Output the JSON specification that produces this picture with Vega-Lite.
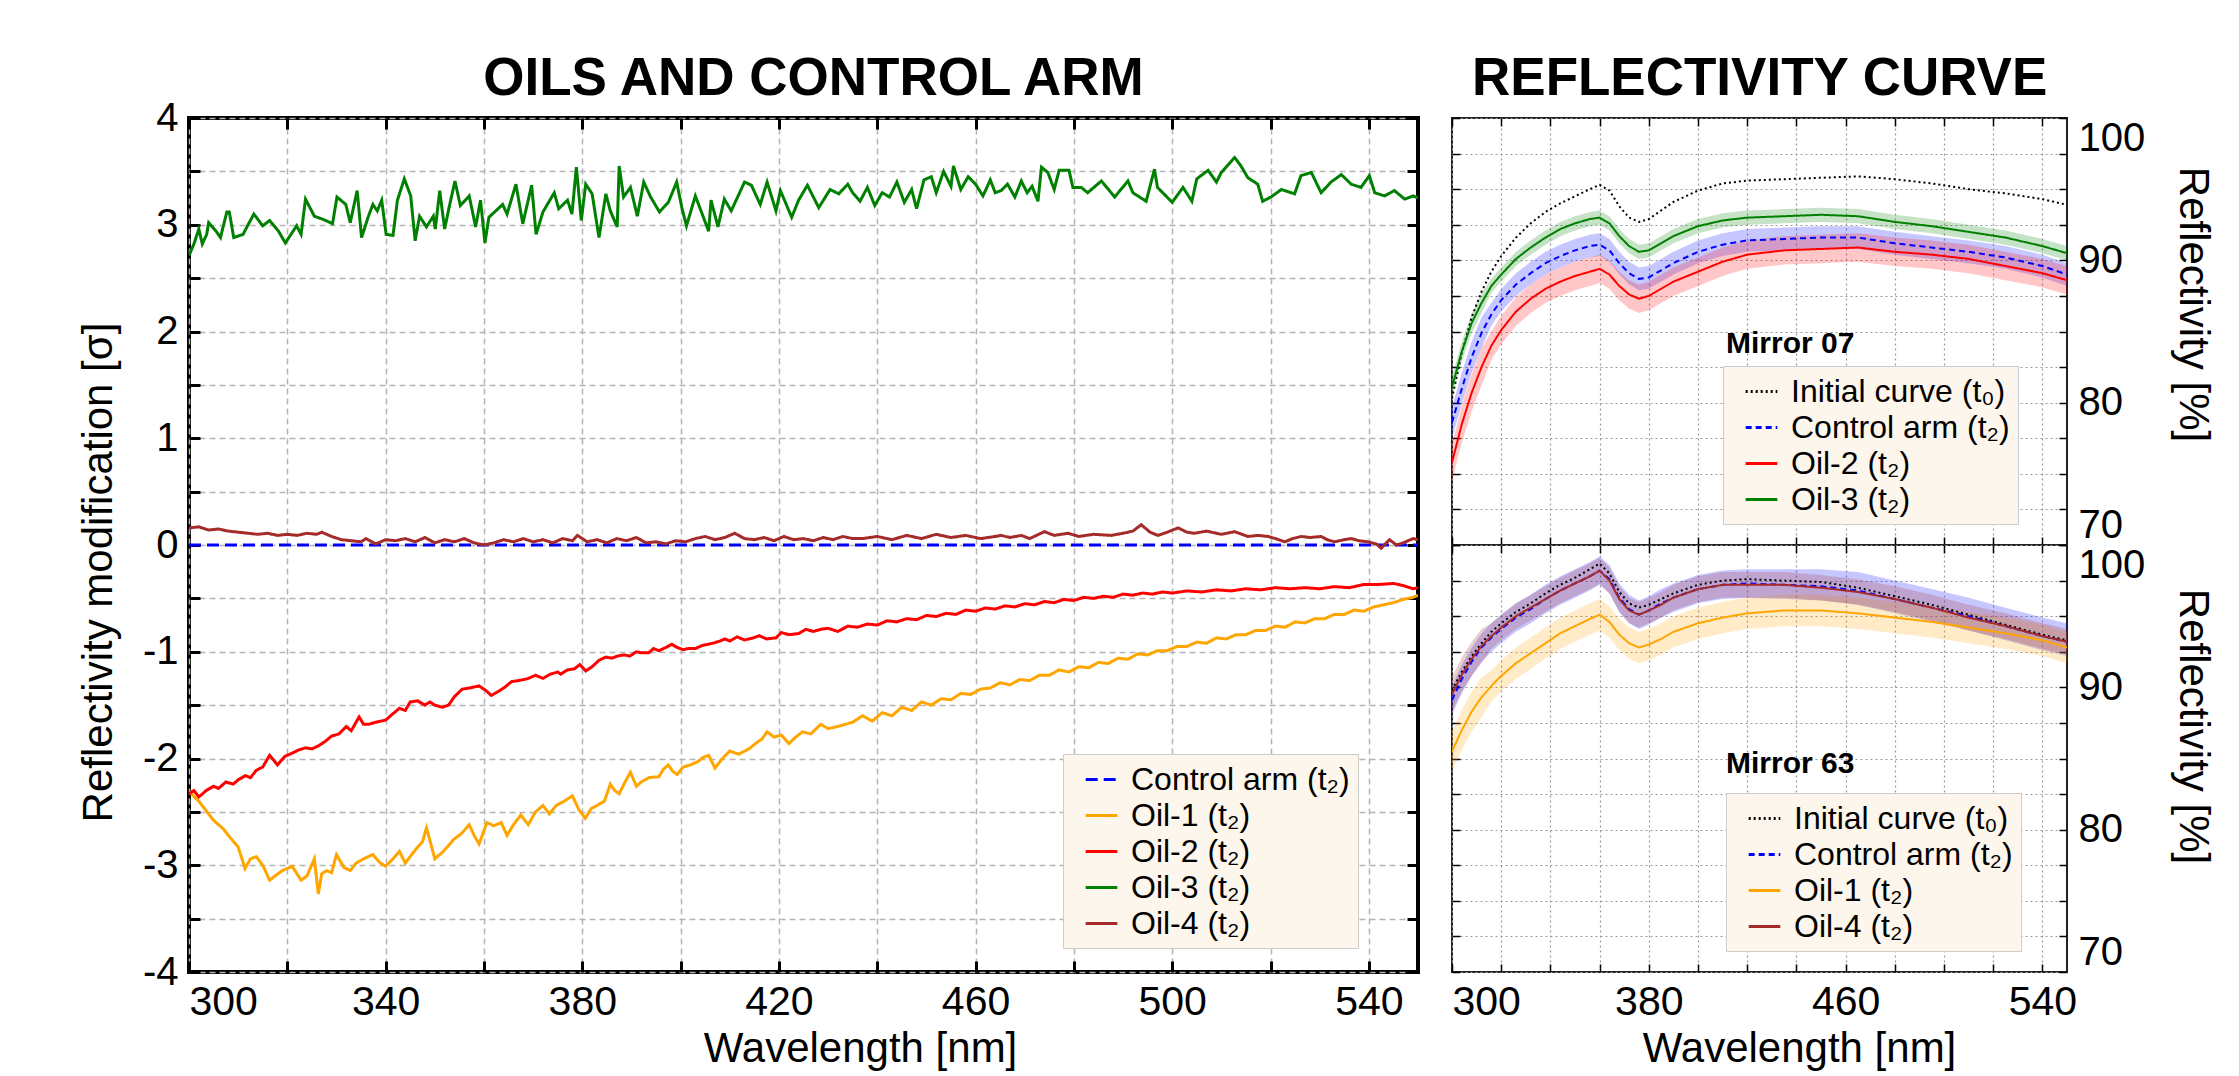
{
"$schema": "https://vega.github.io/schema/vega-lite/v6.json",
"background": "white",
"padding": {"left": 75, "top": 51, "right": 5, "bottom": 0},
"bounds": "flush",
"spacing": 34,
"config": {
  "font": "Liberation Sans",
  "title": {"fontSize": 53, "fontWeight": "bold", "frame": "group", "color": "#000", "baseline": "alphabetic"},
  "axis": {"labelFontSize": 40, "titleFontSize": 42, "labelColor": "#000", "titleColor": "#000", "titleFontWeight": "normal", "domain": false, "tickColor": "#000"},
  "legend": {"labelFontSize": 32, "labelColor": "#000", "symbolType": "stroke", "symbolStrokeWidth": 3, "symbolSize": 1000, "fillColor": "#FDF6EC", "strokeColor": "#cccccc", "padding": 8, "rowPadding": 2, "symbolOffset": 13, "labelOffset": 12, "labelLimit": 400, "orient": "none"}
},
"resolve": {"scale": {"color": "independent", "strokeDash": "independent", "fill": "independent"}, "legend": {"color": "independent", "strokeDash": "independent"}},
"datasets": {
"left": [
{"w":300,"s":"Control arm","v":0},{"w":550,"s":"Control arm","v":0},
{"w":300,"s":"Oil-1","v":-2.31},{"w":302,"s":"Oil-1","v":-2.40},{"w":304,"s":"Oil-1","v":-2.52},{"w":305,"s":"Oil-1","v":-2.58},{"w":307,"s":"Oil-1","v":-2.66},{"w":308,"s":"Oil-1","v":-2.72},{"w":310,"s":"Oil-1","v":-2.83},{"w":311.4,"s":"Oil-1","v":-3.03},{"w":312.5,"s":"Oil-1","v":-2.94},{"w":313.7,"s":"Oil-1","v":-2.92},{"w":315,"s":"Oil-1","v":-3.0},{"w":316.4,"s":"Oil-1","v":-3.14},{"w":317.5,"s":"Oil-1","v":-3.10},{"w":319,"s":"Oil-1","v":-3.05},{"w":321,"s":"Oil-1","v":-3.01},{"w":322.8,"s":"Oil-1","v":-3.14},{"w":324,"s":"Oil-1","v":-3.10},{"w":325.5,"s":"Oil-1","v":-2.94},{"w":326.3,"s":"Oil-1","v":-3.27},{"w":327,"s":"Oil-1","v":-3.08},{"w":328,"s":"Oil-1","v":-3.05},{"w":329,"s":"Oil-1","v":-3.07},{"w":330,"s":"Oil-1","v":-2.90},{"w":331.5,"s":"Oil-1","v":-3.02},{"w":332.8,"s":"Oil-1","v":-3.05},{"w":334,"s":"Oil-1","v":-2.98},{"w":335.5,"s":"Oil-1","v":-2.94},{"w":337.4,"s":"Oil-1","v":-2.90},{"w":338.7,"s":"Oil-1","v":-2.97},{"w":340,"s":"Oil-1","v":-3.01},{"w":341.3,"s":"Oil-1","v":-2.95},{"w":342.8,"s":"Oil-1","v":-2.87},{"w":344,"s":"Oil-1","v":-2.98},{"w":345.3,"s":"Oil-1","v":-2.90},{"w":346.5,"s":"Oil-1","v":-2.83},{"w":347.5,"s":"Oil-1","v":-2.78},{"w":348.3,"s":"Oil-1","v":-2.65},{"w":349.2,"s":"Oil-1","v":-2.80},{"w":350,"s":"Oil-1","v":-2.94},{"w":351.5,"s":"Oil-1","v":-2.88},{"w":352.7,"s":"Oil-1","v":-2.82},{"w":353.8,"s":"Oil-1","v":-2.76},{"w":355.5,"s":"Oil-1","v":-2.70},{"w":357,"s":"Oil-1","v":-2.62},{"w":358,"s":"Oil-1","v":-2.72},{"w":359,"s":"Oil-1","v":-2.80},{"w":360.6,"s":"Oil-1","v":-2.60},{"w":362,"s":"Oil-1","v":-2.63},{"w":363.5,"s":"Oil-1","v":-2.60},{"w":364.7,"s":"Oil-1","v":-2.72},{"w":366,"s":"Oil-1","v":-2.62},{"w":367.5,"s":"Oil-1","v":-2.53},{"w":369,"s":"Oil-1","v":-2.62},{"w":370.5,"s":"Oil-1","v":-2.50},{"w":372,"s":"Oil-1","v":-2.44},{"w":373.3,"s":"Oil-1","v":-2.52},{"w":374.7,"s":"Oil-1","v":-2.44},{"w":376.3,"s":"Oil-1","v":-2.40},{"w":378,"s":"Oil-1","v":-2.35},{"w":379.3,"s":"Oil-1","v":-2.48},{"w":380.6,"s":"Oil-1","v":-2.56},{"w":381.8,"s":"Oil-1","v":-2.47},{"w":383,"s":"Oil-1","v":-2.44},{"w":384.5,"s":"Oil-1","v":-2.40},{"w":385.7,"s":"Oil-1","v":-2.24},{"w":386.6,"s":"Oil-1","v":-2.30},{"w":387.5,"s":"Oil-1","v":-2.33},{"w":388.7,"s":"Oil-1","v":-2.22},{"w":389.8,"s":"Oil-1","v":-2.13},{"w":391,"s":"Oil-1","v":-2.26},{"w":392,"s":"Oil-1","v":-2.22},{"w":393.5,"s":"Oil-1","v":-2.18},{"w":395.6,"s":"Oil-1","v":-2.17},{"w":396.5,"s":"Oil-1","v":-2.10},{"w":397.5,"s":"Oil-1","v":-2.06},{"w":398.4,"s":"Oil-1","v":-2.12},{"w":399.3,"s":"Oil-1","v":-2.15},{"w":400.5,"s":"Oil-1","v":-2.08},{"w":402,"s":"Oil-1","v":-2.06},{"w":403.5,"s":"Oil-1","v":-2.03},{"w":404.6,"s":"Oil-1","v":-1.99},{"w":405.7,"s":"Oil-1","v":-1.97},{"w":407,"s":"Oil-1","v":-2.09},{"w":408.5,"s":"Oil-1","v":-2.00},{"w":410,"s":"Oil-1","v":-1.93},{"w":411.8,"s":"Oil-1","v":-1.96},{"w":413.9,"s":"Oil-1","v":-1.91},{"w":415.5,"s":"Oil-1","v":-1.85},{"w":416.5,"s":"Oil-1","v":-1.82},{"w":417.6,"s":"Oil-1","v":-1.75},{"w":419,"s":"Oil-1","v":-1.80},{"w":420.5,"s":"Oil-1","v":-1.78},{"w":422,"s":"Oil-1","v":-1.86},{"w":423.4,"s":"Oil-1","v":-1.80},{"w":424.8,"s":"Oil-1","v":-1.75},{"w":426.5,"s":"Oil-1","v":-1.77},{"w":428.5,"s":"Oil-1","v":-1.68},{"w":430,"s":"Oil-1","v":-1.72},{"w":432,"s":"Oil-1","v":-1.70},{"w":435,"s":"Oil-1","v":-1.66},{"w":437,"s":"Oil-1","v":-1.60},{"w":439,"s":"Oil-1","v":-1.65},{"w":441,"s":"Oil-1","v":-1.57},{"w":443,"s":"Oil-1","v":-1.60},{"w":445,"s":"Oil-1","v":-1.52},{"w":447,"s":"Oil-1","v":-1.55},{"w":449,"s":"Oil-1","v":-1.47},{"w":451,"s":"Oil-1","v":-1.50},{"w":453,"s":"Oil-1","v":-1.44},{"w":455,"s":"Oil-1","v":-1.45},{"w":457,"s":"Oil-1","v":-1.39},{"w":459,"s":"Oil-1","v":-1.40},{"w":461,"s":"Oil-1","v":-1.35},{"w":463,"s":"Oil-1","v":-1.34},{"w":465,"s":"Oil-1","v":-1.29},{"w":467,"s":"Oil-1","v":-1.31},{"w":469,"s":"Oil-1","v":-1.26},{"w":471,"s":"Oil-1","v":-1.27},{"w":473,"s":"Oil-1","v":-1.22},{"w":475,"s":"Oil-1","v":-1.22},{"w":477,"s":"Oil-1","v":-1.17},{"w":479,"s":"Oil-1","v":-1.19},{"w":481,"s":"Oil-1","v":-1.14},{"w":483,"s":"Oil-1","v":-1.15},{"w":485,"s":"Oil-1","v":-1.10},{"w":487,"s":"Oil-1","v":-1.11},{"w":489,"s":"Oil-1","v":-1.06},{"w":491,"s":"Oil-1","v":-1.07},{"w":493,"s":"Oil-1","v":-1.02},{"w":495,"s":"Oil-1","v":-1.03},{"w":497,"s":"Oil-1","v":-0.99},{"w":499,"s":"Oil-1","v":-0.99},{"w":501,"s":"Oil-1","v":-0.95},{"w":503,"s":"Oil-1","v":-0.95},{"w":505,"s":"Oil-1","v":-0.91},{"w":507,"s":"Oil-1","v":-0.92},{"w":509,"s":"Oil-1","v":-0.87},{"w":511,"s":"Oil-1","v":-0.88},{"w":513,"s":"Oil-1","v":-0.84},{"w":515,"s":"Oil-1","v":-0.84},{"w":517,"s":"Oil-1","v":-0.80},{"w":519,"s":"Oil-1","v":-0.80},{"w":521,"s":"Oil-1","v":-0.76},{"w":523,"s":"Oil-1","v":-0.77},{"w":525,"s":"Oil-1","v":-0.72},{"w":527,"s":"Oil-1","v":-0.73},{"w":529,"s":"Oil-1","v":-0.69},{"w":531,"s":"Oil-1","v":-0.69},{"w":533,"s":"Oil-1","v":-0.65},{"w":535,"s":"Oil-1","v":-0.65},{"w":537,"s":"Oil-1","v":-0.61},{"w":539,"s":"Oil-1","v":-0.62},{"w":541,"s":"Oil-1","v":-0.58},{"w":543,"s":"Oil-1","v":-0.56},{"w":545,"s":"Oil-1","v":-0.54},{"w":547,"s":"Oil-1","v":-0.51},{"w":549,"s":"Oil-1","v":-0.49},{"w":550,"s":"Oil-1","v":-0.47},
{"w":300,"s":"Oil-2","v":-2.33},{"w":301,"s":"Oil-2","v":-2.30},{"w":302,"s":"Oil-2","v":-2.36},{"w":303.5,"s":"Oil-2","v":-2.30},{"w":305,"s":"Oil-2","v":-2.26},{"w":306,"s":"Oil-2","v":-2.28},{"w":307.5,"s":"Oil-2","v":-2.22},{"w":309,"s":"Oil-2","v":-2.24},{"w":310,"s":"Oil-2","v":-2.20},{"w":311.5,"s":"Oil-2","v":-2.16},{"w":312.5,"s":"Oil-2","v":-2.18},{"w":313.7,"s":"Oil-2","v":-2.11},{"w":315,"s":"Oil-2","v":-2.08},{"w":316.4,"s":"Oil-2","v":-1.97},{"w":317.3,"s":"Oil-2","v":-2.02},{"w":318,"s":"Oil-2","v":-2.06},{"w":319.5,"s":"Oil-2","v":-1.98},{"w":321,"s":"Oil-2","v":-1.95},{"w":322.3,"s":"Oil-2","v":-1.92},{"w":323.7,"s":"Oil-2","v":-1.90},{"w":325,"s":"Oil-2","v":-1.91},{"w":326.4,"s":"Oil-2","v":-1.88},{"w":327.7,"s":"Oil-2","v":-1.84},{"w":329,"s":"Oil-2","v":-1.79},{"w":330.5,"s":"Oil-2","v":-1.77},{"w":332,"s":"Oil-2","v":-1.70},{"w":333,"s":"Oil-2","v":-1.74},{"w":334.6,"s":"Oil-2","v":-1.61},{"w":335.5,"s":"Oil-2","v":-1.68},{"w":336.5,"s":"Oil-2","v":-1.68},{"w":338,"s":"Oil-2","v":-1.66},{"w":340,"s":"Oil-2","v":-1.64},{"w":341.5,"s":"Oil-2","v":-1.58},{"w":342.8,"s":"Oil-2","v":-1.53},{"w":344,"s":"Oil-2","v":-1.55},{"w":345,"s":"Oil-2","v":-1.47},{"w":346.5,"s":"Oil-2","v":-1.46},{"w":348,"s":"Oil-2","v":-1.50},{"w":349,"s":"Oil-2","v":-1.47},{"w":350,"s":"Oil-2","v":-1.50},{"w":351.5,"s":"Oil-2","v":-1.52},{"w":352.8,"s":"Oil-2","v":-1.50},{"w":354,"s":"Oil-2","v":-1.42},{"w":355.6,"s":"Oil-2","v":-1.35},{"w":357,"s":"Oil-2","v":-1.34},{"w":358,"s":"Oil-2","v":-1.33},{"w":359,"s":"Oil-2","v":-1.32},{"w":360.3,"s":"Oil-2","v":-1.36},{"w":361.5,"s":"Oil-2","v":-1.41},{"w":363,"s":"Oil-2","v":-1.37},{"w":364.3,"s":"Oil-2","v":-1.33},{"w":365.6,"s":"Oil-2","v":-1.28},{"w":367,"s":"Oil-2","v":-1.27},{"w":368.2,"s":"Oil-2","v":-1.26},{"w":369,"s":"Oil-2","v":-1.25},{"w":370.5,"s":"Oil-2","v":-1.22},{"w":372,"s":"Oil-2","v":-1.25},{"w":373.5,"s":"Oil-2","v":-1.21},{"w":375,"s":"Oil-2","v":-1.19},{"w":375.6,"s":"Oil-2","v":-1.21},{"w":377,"s":"Oil-2","v":-1.17},{"w":378.4,"s":"Oil-2","v":-1.16},{"w":379.5,"s":"Oil-2","v":-1.12},{"w":380.7,"s":"Oil-2","v":-1.18},{"w":382,"s":"Oil-2","v":-1.14},{"w":383.4,"s":"Oil-2","v":-1.08},{"w":384.8,"s":"Oil-2","v":-1.05},{"w":386,"s":"Oil-2","v":-1.06},{"w":387.2,"s":"Oil-2","v":-1.04},{"w":388.5,"s":"Oil-2","v":-1.03},{"w":389.7,"s":"Oil-2","v":-1.04},{"w":391,"s":"Oil-2","v":-1.00},{"w":392,"s":"Oil-2","v":-1.01},{"w":393.5,"s":"Oil-2","v":-1.01},{"w":394.5,"s":"Oil-2","v":-0.97},{"w":395.6,"s":"Oil-2","v":-0.99},{"w":397,"s":"Oil-2","v":-0.96},{"w":398.2,"s":"Oil-2","v":-0.93},{"w":399.3,"s":"Oil-2","v":-0.96},{"w":400.5,"s":"Oil-2","v":-0.98},{"w":401.6,"s":"Oil-2","v":-0.97},{"w":403,"s":"Oil-2","v":-0.97},{"w":404.5,"s":"Oil-2","v":-0.94},{"w":405.6,"s":"Oil-2","v":-0.93},{"w":406.6,"s":"Oil-2","v":-0.92},{"w":408,"s":"Oil-2","v":-0.90},{"w":409,"s":"Oil-2","v":-0.88},{"w":410,"s":"Oil-2","v":-0.90},{"w":411.5,"s":"Oil-2","v":-0.86},{"w":413,"s":"Oil-2","v":-0.89},{"w":414.8,"s":"Oil-2","v":-0.87},{"w":416,"s":"Oil-2","v":-0.85},{"w":417.5,"s":"Oil-2","v":-0.88},{"w":419.4,"s":"Oil-2","v":-0.87},{"w":420.5,"s":"Oil-2","v":-0.82},{"w":422,"s":"Oil-2","v":-0.84},{"w":424,"s":"Oil-2","v":-0.83},{"w":425.5,"s":"Oil-2","v":-0.79},{"w":427,"s":"Oil-2","v":-0.81},{"w":428.5,"s":"Oil-2","v":-0.79},{"w":430,"s":"Oil-2","v":-0.78},{"w":432,"s":"Oil-2","v":-0.81},{"w":434,"s":"Oil-2","v":-0.76},{"w":436,"s":"Oil-2","v":-0.77},{"w":438,"s":"Oil-2","v":-0.74},{"w":440,"s":"Oil-2","v":-0.75},{"w":442,"s":"Oil-2","v":-0.71},{"w":444,"s":"Oil-2","v":-0.72},{"w":446,"s":"Oil-2","v":-0.69},{"w":448,"s":"Oil-2","v":-0.70},{"w":450,"s":"Oil-2","v":-0.66},{"w":452,"s":"Oil-2","v":-0.67},{"w":454,"s":"Oil-2","v":-0.64},{"w":456,"s":"Oil-2","v":-0.65},{"w":458,"s":"Oil-2","v":-0.61},{"w":460,"s":"Oil-2","v":-0.62},{"w":462,"s":"Oil-2","v":-0.59},{"w":464,"s":"Oil-2","v":-0.60},{"w":466,"s":"Oil-2","v":-0.57},{"w":468,"s":"Oil-2","v":-0.58},{"w":470,"s":"Oil-2","v":-0.55},{"w":472,"s":"Oil-2","v":-0.56},{"w":474,"s":"Oil-2","v":-0.53},{"w":476,"s":"Oil-2","v":-0.54},{"w":478,"s":"Oil-2","v":-0.51},{"w":480,"s":"Oil-2","v":-0.52},{"w":482,"s":"Oil-2","v":-0.49},{"w":484,"s":"Oil-2","v":-0.50},{"w":486,"s":"Oil-2","v":-0.48},{"w":488,"s":"Oil-2","v":-0.49},{"w":490,"s":"Oil-2","v":-0.46},{"w":492,"s":"Oil-2","v":-0.47},{"w":494,"s":"Oil-2","v":-0.45},{"w":496,"s":"Oil-2","v":-0.46},{"w":498,"s":"Oil-2","v":-0.44},{"w":500,"s":"Oil-2","v":-0.45},{"w":503,"s":"Oil-2","v":-0.43},{"w":506,"s":"Oil-2","v":-0.44},{"w":509,"s":"Oil-2","v":-0.42},{"w":512,"s":"Oil-2","v":-0.43},{"w":515,"s":"Oil-2","v":-0.41},{"w":518,"s":"Oil-2","v":-0.42},{"w":521,"s":"Oil-2","v":-0.40},{"w":524,"s":"Oil-2","v":-0.41},{"w":527,"s":"Oil-2","v":-0.40},{"w":530,"s":"Oil-2","v":-0.41},{"w":533,"s":"Oil-2","v":-0.39},{"w":536,"s":"Oil-2","v":-0.40},{"w":539,"s":"Oil-2","v":-0.37},{"w":542,"s":"Oil-2","v":-0.37},{"w":545,"s":"Oil-2","v":-0.36},{"w":547,"s":"Oil-2","v":-0.38},{"w":549,"s":"Oil-2","v":-0.41},{"w":550,"s":"Oil-2","v":-0.40},
{"w":300,"s":"Oil-3","v":2.71},{"w":301,"s":"Oil-3","v":2.82},{"w":302,"s":"Oil-3","v":2.96},{"w":302.7,"s":"Oil-3","v":2.82},{"w":303.6,"s":"Oil-3","v":2.91},{"w":304,"s":"Oil-3","v":3.02},{"w":305.5,"s":"Oil-3","v":2.94},{"w":306.4,"s":"Oil-3","v":2.88},{"w":307.7,"s":"Oil-3","v":3.12},{"w":308.2,"s":"Oil-3","v":3.12},{"w":309.1,"s":"Oil-3","v":2.88},{"w":311,"s":"Oil-3","v":2.91},{"w":311.9,"s":"Oil-3","v":2.99},{"w":313.2,"s":"Oil-3","v":3.10},{"w":315,"s":"Oil-3","v":2.99},{"w":316.4,"s":"Oil-3","v":3.04},{"w":318.2,"s":"Oil-3","v":2.94},{"w":319.6,"s":"Oil-3","v":2.83},{"w":321.9,"s":"Oil-3","v":2.99},{"w":322.8,"s":"Oil-3","v":2.91},{"w":323.7,"s":"Oil-3","v":3.24},{"w":325.5,"s":"Oil-3","v":3.08},{"w":327.3,"s":"Oil-3","v":3.05},{"w":329.2,"s":"Oil-3","v":3.01},{"w":330.1,"s":"Oil-3","v":3.26},{"w":331.9,"s":"Oil-3","v":3.19},{"w":332.8,"s":"Oil-3","v":3.02},{"w":334.2,"s":"Oil-3","v":3.32},{"w":335.1,"s":"Oil-3","v":2.88},{"w":336.5,"s":"Oil-3","v":3.08},{"w":337.4,"s":"Oil-3","v":3.19},{"w":338.3,"s":"Oil-3","v":3.13},{"w":339.2,"s":"Oil-3","v":3.23},{"w":340.1,"s":"Oil-3","v":2.91},{"w":341.5,"s":"Oil-3","v":2.90},{"w":342.4,"s":"Oil-3","v":3.23},{"w":343.8,"s":"Oil-3","v":3.43},{"w":345.1,"s":"Oil-3","v":3.27},{"w":346,"s":"Oil-3","v":2.85},{"w":346.9,"s":"Oil-3","v":3.08},{"w":348.3,"s":"Oil-3","v":2.98},{"w":349.7,"s":"Oil-3","v":3.08},{"w":350.1,"s":"Oil-3","v":2.96},{"w":351,"s":"Oil-3","v":3.32},{"w":352,"s":"Oil-3","v":2.96},{"w":352.9,"s":"Oil-3","v":3.16},{"w":354.1,"s":"Oil-3","v":3.41},{"w":355.2,"s":"Oil-3","v":3.18},{"w":357,"s":"Oil-3","v":3.27},{"w":358.3,"s":"Oil-3","v":2.98},{"w":359.3,"s":"Oil-3","v":3.23},{"w":360.2,"s":"Oil-3","v":2.83},{"w":361,"s":"Oil-3","v":3.07},{"w":362.4,"s":"Oil-3","v":3.13},{"w":363.8,"s":"Oil-3","v":3.19},{"w":364.7,"s":"Oil-3","v":3.10},{"w":366.5,"s":"Oil-3","v":3.38},{"w":367.9,"s":"Oil-3","v":3.01},{"w":369.7,"s":"Oil-3","v":3.37},{"w":370.6,"s":"Oil-3","v":2.91},{"w":372,"s":"Oil-3","v":3.12},{"w":374.3,"s":"Oil-3","v":3.30},{"w":375.2,"s":"Oil-3","v":3.15},{"w":377,"s":"Oil-3","v":3.23},{"w":377.9,"s":"Oil-3","v":3.10},{"w":378.8,"s":"Oil-3","v":3.54},{"w":379.8,"s":"Oil-3","v":3.04},{"w":380.7,"s":"Oil-3","v":3.38},{"w":382,"s":"Oil-3","v":3.29},{"w":383.4,"s":"Oil-3","v":2.88},{"w":384.8,"s":"Oil-3","v":3.29},{"w":385.7,"s":"Oil-3","v":3.13},{"w":387.1,"s":"Oil-3","v":2.98},{"w":387.5,"s":"Oil-3","v":3.55},{"w":388.4,"s":"Oil-3","v":3.26},{"w":389.8,"s":"Oil-3","v":3.35},{"w":391.2,"s":"Oil-3","v":3.08},{"w":392.5,"s":"Oil-3","v":3.40},{"w":393.9,"s":"Oil-3","v":3.26},{"w":395.7,"s":"Oil-3","v":3.12},{"w":397.5,"s":"Oil-3","v":3.21},{"w":399.2,"s":"Oil-3","v":3.40},{"w":400.3,"s":"Oil-3","v":3.15},{"w":401.2,"s":"Oil-3","v":2.99},{"w":403,"s":"Oil-3","v":3.27},{"w":404.4,"s":"Oil-3","v":3.10},{"w":405.7,"s":"Oil-3","v":2.94},{"w":406.2,"s":"Oil-3","v":3.23},{"w":407.6,"s":"Oil-3","v":2.98},{"w":408.9,"s":"Oil-3","v":3.24},{"w":410.3,"s":"Oil-3","v":3.13},{"w":413,"s":"Oil-3","v":3.40},{"w":414.4,"s":"Oil-3","v":3.37},{"w":416.2,"s":"Oil-3","v":3.19},{"w":417.6,"s":"Oil-3","v":3.40},{"w":419.4,"s":"Oil-3","v":3.13},{"w":420.3,"s":"Oil-3","v":3.32},{"w":422.6,"s":"Oil-3","v":3.07},{"w":424,"s":"Oil-3","v":3.23},{"w":425.8,"s":"Oil-3","v":3.37},{"w":428.1,"s":"Oil-3","v":3.16},{"w":430.4,"s":"Oil-3","v":3.33},{"w":432.2,"s":"Oil-3","v":3.29},{"w":434,"s":"Oil-3","v":3.38},{"w":435,"s":"Oil-3","v":3.30},{"w":436.5,"s":"Oil-3","v":3.22},{"w":438,"s":"Oil-3","v":3.35},{"w":439.5,"s":"Oil-3","v":3.18},{"w":441,"s":"Oil-3","v":3.30},{"w":442.5,"s":"Oil-3","v":3.26},{"w":444,"s":"Oil-3","v":3.40},{"w":445.5,"s":"Oil-3","v":3.21},{"w":447,"s":"Oil-3","v":3.33},{"w":448,"s":"Oil-3","v":3.15},{"w":449.5,"s":"Oil-3","v":3.42},{"w":451,"s":"Oil-3","v":3.45},{"w":452,"s":"Oil-3","v":3.30},{"w":453.5,"s":"Oil-3","v":3.50},{"w":455,"s":"Oil-3","v":3.36},{"w":455.5,"s":"Oil-3","v":3.55},{"w":457,"s":"Oil-3","v":3.33},{"w":458.5,"s":"Oil-3","v":3.45},{"w":460,"s":"Oil-3","v":3.38},{"w":461.5,"s":"Oil-3","v":3.27},{"w":463,"s":"Oil-3","v":3.42},{"w":464,"s":"Oil-3","v":3.30},{"w":465.2,"s":"Oil-3","v":3.32},{"w":466.5,"s":"Oil-3","v":3.38},{"w":468,"s":"Oil-3","v":3.26},{"w":469.3,"s":"Oil-3","v":3.41},{"w":470.5,"s":"Oil-3","v":3.30},{"w":471.5,"s":"Oil-3","v":3.36},{"w":472.7,"s":"Oil-3","v":3.22},{"w":473.4,"s":"Oil-3","v":3.54},{"w":474.7,"s":"Oil-3","v":3.49},{"w":476,"s":"Oil-3","v":3.33},{"w":477,"s":"Oil-3","v":3.51},{"w":479,"s":"Oil-3","v":3.51},{"w":479.8,"s":"Oil-3","v":3.35},{"w":481.5,"s":"Oil-3","v":3.35},{"w":482.8,"s":"Oil-3","v":3.30},{"w":485.6,"s":"Oil-3","v":3.41},{"w":488.3,"s":"Oil-3","v":3.26},{"w":491,"s":"Oil-3","v":3.41},{"w":492,"s":"Oil-3","v":3.30},{"w":494.7,"s":"Oil-3","v":3.22},{"w":496.4,"s":"Oil-3","v":3.52},{"w":497,"s":"Oil-3","v":3.35},{"w":500,"s":"Oil-3","v":3.21},{"w":502.2,"s":"Oil-3","v":3.35},{"w":504,"s":"Oil-3","v":3.22},{"w":505,"s":"Oil-3","v":3.43},{"w":507.3,"s":"Oil-3","v":3.51},{"w":509,"s":"Oil-3","v":3.40},{"w":510,"s":"Oil-3","v":3.49},{"w":512.7,"s":"Oil-3","v":3.63},{"w":514,"s":"Oil-3","v":3.55},{"w":515.4,"s":"Oil-3","v":3.44},{"w":517.4,"s":"Oil-3","v":3.38},{"w":518.4,"s":"Oil-3","v":3.22},{"w":520.1,"s":"Oil-3","v":3.26},{"w":522.2,"s":"Oil-3","v":3.33},{"w":524.9,"s":"Oil-3","v":3.29},{"w":526.2,"s":"Oil-3","v":3.46},{"w":528.3,"s":"Oil-3","v":3.49},{"w":530.3,"s":"Oil-3","v":3.30},{"w":532.3,"s":"Oil-3","v":3.40},{"w":534.4,"s":"Oil-3","v":3.47},{"w":536.4,"s":"Oil-3","v":3.38},{"w":538.4,"s":"Oil-3","v":3.35},{"w":540.1,"s":"Oil-3","v":3.46},{"w":541.2,"s":"Oil-3","v":3.30},{"w":543.2,"s":"Oil-3","v":3.27},{"w":545.2,"s":"Oil-3","v":3.32},{"w":547.3,"s":"Oil-3","v":3.24},{"w":549,"s":"Oil-3","v":3.27},{"w":550,"s":"Oil-3","v":3.25},
{"w":300,"s":"Oil-4","v":0.16},{"w":302,"s":"Oil-4","v":0.17},{"w":304,"s":"Oil-4","v":0.14},{"w":306,"s":"Oil-4","v":0.15},{"w":308,"s":"Oil-4","v":0.13},{"w":310,"s":"Oil-4","v":0.12},{"w":312,"s":"Oil-4","v":0.11},{"w":314,"s":"Oil-4","v":0.10},{"w":316,"s":"Oil-4","v":0.11},{"w":318,"s":"Oil-4","v":0.09},{"w":320,"s":"Oil-4","v":0.10},{"w":322,"s":"Oil-4","v":0.09},{"w":324,"s":"Oil-4","v":0.11},{"w":326,"s":"Oil-4","v":0.10},{"w":327,"s":"Oil-4","v":0.12},{"w":329,"s":"Oil-4","v":0.08},{"w":331,"s":"Oil-4","v":0.05},{"w":333,"s":"Oil-4","v":0.04},{"w":335,"s":"Oil-4","v":0.03},{"w":336,"s":"Oil-4","v":0.06},{"w":338,"s":"Oil-4","v":0.01},{"w":340,"s":"Oil-4","v":0.05},{"w":342,"s":"Oil-4","v":0.04},{"w":344,"s":"Oil-4","v":0.06},{"w":346,"s":"Oil-4","v":0.03},{"w":348,"s":"Oil-4","v":0.07},{"w":350,"s":"Oil-4","v":0.02},{"w":352,"s":"Oil-4","v":0.05},{"w":354,"s":"Oil-4","v":0.03},{"w":356,"s":"Oil-4","v":0.06},{"w":358,"s":"Oil-4","v":0.02},{"w":360,"s":"Oil-4","v":0.0},{"w":362,"s":"Oil-4","v":0.02},{"w":364,"s":"Oil-4","v":0.05},{"w":366,"s":"Oil-4","v":0.03},{"w":368,"s":"Oil-4","v":0.06},{"w":370,"s":"Oil-4","v":0.03},{"w":372,"s":"Oil-4","v":0.05},{"w":374,"s":"Oil-4","v":0.02},{"w":376,"s":"Oil-4","v":0.06},{"w":378,"s":"Oil-4","v":0.04},{"w":379,"s":"Oil-4","v":0.09},{"w":381,"s":"Oil-4","v":0.03},{"w":383,"s":"Oil-4","v":0.05},{"w":385,"s":"Oil-4","v":0.02},{"w":387,"s":"Oil-4","v":0.06},{"w":389,"s":"Oil-4","v":0.04},{"w":391,"s":"Oil-4","v":0.07},{"w":393,"s":"Oil-4","v":0.02},{"w":395,"s":"Oil-4","v":0.03},{"w":397,"s":"Oil-4","v":0.01},{"w":399,"s":"Oil-4","v":0.04},{"w":401,"s":"Oil-4","v":0.03},{"w":403,"s":"Oil-4","v":0.06},{"w":405,"s":"Oil-4","v":0.08},{"w":407,"s":"Oil-4","v":0.05},{"w":409,"s":"Oil-4","v":0.07},{"w":411,"s":"Oil-4","v":0.11},{"w":413,"s":"Oil-4","v":0.06},{"w":415,"s":"Oil-4","v":0.05},{"w":417,"s":"Oil-4","v":0.07},{"w":419,"s":"Oil-4","v":0.04},{"w":421,"s":"Oil-4","v":0.08},{"w":423,"s":"Oil-4","v":0.05},{"w":425,"s":"Oil-4","v":0.06},{"w":427,"s":"Oil-4","v":0.04},{"w":429,"s":"Oil-4","v":0.07},{"w":431,"s":"Oil-4","v":0.05},{"w":433,"s":"Oil-4","v":0.08},{"w":435,"s":"Oil-4","v":0.06},{"w":437,"s":"Oil-4","v":0.06},{"w":440,"s":"Oil-4","v":0.08},{"w":443,"s":"Oil-4","v":0.05},{"w":446,"s":"Oil-4","v":0.09},{"w":449,"s":"Oil-4","v":0.06},{"w":452,"s":"Oil-4","v":0.10},{"w":455,"s":"Oil-4","v":0.07},{"w":458,"s":"Oil-4","v":0.09},{"w":461,"s":"Oil-4","v":0.06},{"w":464,"s":"Oil-4","v":0.08},{"w":465.2,"s":"Oil-4","v":0.09},{"w":467,"s":"Oil-4","v":0.07},{"w":469.3,"s":"Oil-4","v":0.09},{"w":471,"s":"Oil-4","v":0.06},{"w":474,"s":"Oil-4","v":0.125},{"w":476,"s":"Oil-4","v":0.09},{"w":478.8,"s":"Oil-4","v":0.11},{"w":481,"s":"Oil-4","v":0.08},{"w":484,"s":"Oil-4","v":0.10},{"w":487.6,"s":"Oil-4","v":0.09},{"w":490,"s":"Oil-4","v":0.11},{"w":492,"s":"Oil-4","v":0.13},{"w":493.7,"s":"Oil-4","v":0.19},{"w":495.5,"s":"Oil-4","v":0.12},{"w":497.1,"s":"Oil-4","v":0.09},{"w":499,"s":"Oil-4","v":0.12},{"w":501.2,"s":"Oil-4","v":0.16},{"w":503,"s":"Oil-4","v":0.12},{"w":504.5,"s":"Oil-4","v":0.11},{"w":507,"s":"Oil-4","v":0.13},{"w":510,"s":"Oil-4","v":0.10},{"w":512.7,"s":"Oil-4","v":0.125},{"w":515.4,"s":"Oil-4","v":0.08},{"w":517.5,"s":"Oil-4","v":0.09},{"w":519.5,"s":"Oil-4","v":0.08},{"w":521,"s":"Oil-4","v":0.06},{"w":522.9,"s":"Oil-4","v":0.03},{"w":524.5,"s":"Oil-4","v":0.06},{"w":526.2,"s":"Oil-4","v":0.08},{"w":528,"s":"Oil-4","v":0.07},{"w":530.3,"s":"Oil-4","v":0.08},{"w":531.5,"s":"Oil-4","v":0.05},{"w":533,"s":"Oil-4","v":0.03},{"w":535,"s":"Oil-4","v":0.05},{"w":536.4,"s":"Oil-4","v":0.06},{"w":538,"s":"Oil-4","v":0.04},{"w":539.8,"s":"Oil-4","v":0.03},{"w":541.5,"s":"Oil-4","v":0.01},{"w":542.5,"s":"Oil-4","v":-0.03},{"w":544.2,"s":"Oil-4","v":0.05},{"w":545.6,"s":"Oil-4","v":0.0},{"w":547,"s":"Oil-4","v":0.02},{"w":549,"s":"Oil-4","v":0.06},{"w":550,"s":"Oil-4","v":0.05}
],
"r07": [
{"w":300,"s":"Initial curve","m":80.3},{"w":304,"s":"Initial curve","m":83.5},{"w":308,"s":"Initial curve","m":86.0},{"w":312,"s":"Initial curve","m":87.8},{"w":316,"s":"Initial curve","m":89.2},{"w":320,"s":"Initial curve","m":90.3},{"w":326,"s":"Initial curve","m":91.6},{"w":332,"s":"Initial curve","m":92.6},{"w":338,"s":"Initial curve","m":93.4},{"w":344,"s":"Initial curve","m":94.0},{"w":350,"s":"Initial curve","m":94.5},{"w":356,"s":"Initial curve","m":95.0},{"w":360,"s":"Initial curve","m":95.3},{"w":364,"s":"Initial curve","m":94.9},{"w":368,"s":"Initial curve","m":93.8},{"w":372,"s":"Initial curve","m":93.0},{"w":376,"s":"Initial curve","m":92.7},{"w":380,"s":"Initial curve","m":92.9},{"w":385,"s":"Initial curve","m":93.5},{"w":390,"s":"Initial curve","m":94.1},{"w":400,"s":"Initial curve","m":94.9},{"w":410,"s":"Initial curve","m":95.4},{"w":420,"s":"Initial curve","m":95.6},{"w":435,"s":"Initial curve","m":95.7},{"w":450,"s":"Initial curve","m":95.8},{"w":465,"s":"Initial curve","m":95.9},{"w":480,"s":"Initial curve","m":95.7},{"w":495,"s":"Initial curve","m":95.4},{"w":510,"s":"Initial curve","m":95.0},{"w":525,"s":"Initial curve","m":94.7},{"w":540,"s":"Initial curve","m":94.3},{"w":550,"s":"Initial curve","m":93.9},
{"w":300,"s":"Control arm","m":78.6,"lo":77.5,"hi":79.7},{"w":304,"s":"Control arm","m":81.0,"lo":79.9,"hi":82.1},{"w":308,"s":"Control arm","m":83.2,"lo":82.1,"hi":84.3},{"w":312,"s":"Control arm","m":84.9,"lo":83.8,"hi":86.0},{"w":316,"s":"Control arm","m":86.2,"lo":85.4,"hi":87.0},{"w":320,"s":"Control arm","m":87.2,"lo":86.4,"hi":88.0},{"w":326,"s":"Control arm","m":88.3,"lo":87.5,"hi":89.1},{"w":332,"s":"Control arm","m":89.1,"lo":88.3,"hi":89.9},{"w":338,"s":"Control arm","m":89.8,"lo":89.0,"hi":90.6},{"w":344,"s":"Control arm","m":90.3,"lo":89.5,"hi":91.1},{"w":350,"s":"Control arm","m":90.7,"lo":89.9,"hi":91.5},{"w":356,"s":"Control arm","m":91.0,"lo":90.2,"hi":91.8},{"w":360,"s":"Control arm","m":91.1,"lo":90.3,"hi":91.9},{"w":364,"s":"Control arm","m":90.7,"lo":89.9,"hi":91.5},{"w":368,"s":"Control arm","m":89.8,"lo":89.0,"hi":90.6},{"w":372,"s":"Control arm","m":89.1,"lo":88.3,"hi":89.9},{"w":376,"s":"Control arm","m":88.7,"lo":87.9,"hi":89.5},{"w":380,"s":"Control arm","m":88.8,"lo":88.0,"hi":89.6},{"w":385,"s":"Control arm","m":89.3,"lo":88.5,"hi":90.1},{"w":390,"s":"Control arm","m":89.8,"lo":89.0,"hi":90.6},{"w":400,"s":"Control arm","m":90.6,"lo":89.8,"hi":91.4},{"w":410,"s":"Control arm","m":91.1,"lo":90.3,"hi":91.9},{"w":420,"s":"Control arm","m":91.4,"lo":90.6,"hi":92.2},{"w":435,"s":"Control arm","m":91.5,"lo":90.7,"hi":92.3},{"w":450,"s":"Control arm","m":91.6,"lo":90.8,"hi":92.4},{"w":465,"s":"Control arm","m":91.6,"lo":90.8,"hi":92.4},{"w":480,"s":"Control arm","m":91.2,"lo":90.4,"hi":92.0},{"w":495,"s":"Control arm","m":90.9,"lo":90.1,"hi":91.7},{"w":510,"s":"Control arm","m":90.6,"lo":89.8,"hi":91.4},{"w":525,"s":"Control arm","m":90.2,"lo":89.4,"hi":91.0},{"w":540,"s":"Control arm","m":89.6,"lo":88.8,"hi":90.4},{"w":550,"s":"Control arm","m":89.0,"lo":88.2,"hi":89.8},
{"w":300,"s":"Oil-2","m":75.8,"lo":74.5,"hi":77.1},{"w":304,"s":"Oil-2","m":78.5,"lo":77.2,"hi":79.8},{"w":308,"s":"Oil-2","m":80.7,"lo":79.4,"hi":82.0},{"w":312,"s":"Oil-2","m":82.5,"lo":81.2,"hi":83.8},{"w":316,"s":"Oil-2","m":84.0,"lo":83.0,"hi":85.0},{"w":320,"s":"Oil-2","m":85.1,"lo":84.1,"hi":86.1},{"w":326,"s":"Oil-2","m":86.4,"lo":85.4,"hi":87.4},{"w":332,"s":"Oil-2","m":87.3,"lo":86.3,"hi":88.3},{"w":338,"s":"Oil-2","m":88.0,"lo":87.0,"hi":89.0},{"w":344,"s":"Oil-2","m":88.5,"lo":87.5,"hi":89.5},{"w":350,"s":"Oil-2","m":88.9,"lo":87.9,"hi":89.9},{"w":356,"s":"Oil-2","m":89.2,"lo":88.2,"hi":90.2},{"w":360,"s":"Oil-2","m":89.4,"lo":88.4,"hi":90.4},{"w":364,"s":"Oil-2","m":89.0,"lo":88.0,"hi":90.0},{"w":368,"s":"Oil-2","m":88.2,"lo":87.2,"hi":89.2},{"w":372,"s":"Oil-2","m":87.6,"lo":86.6,"hi":88.6},{"w":376,"s":"Oil-2","m":87.3,"lo":86.3,"hi":88.3},{"w":380,"s":"Oil-2","m":87.5,"lo":86.5,"hi":88.5},{"w":385,"s":"Oil-2","m":88.0,"lo":87.0,"hi":89.0},{"w":390,"s":"Oil-2","m":88.5,"lo":87.5,"hi":89.5},{"w":400,"s":"Oil-2","m":89.2,"lo":88.2,"hi":90.2},{"w":410,"s":"Oil-2","m":89.9,"lo":88.9,"hi":90.9},{"w":420,"s":"Oil-2","m":90.4,"lo":89.4,"hi":91.4},{"w":435,"s":"Oil-2","m":90.7,"lo":89.7,"hi":91.7},{"w":450,"s":"Oil-2","m":90.8,"lo":89.8,"hi":91.8},{"w":465,"s":"Oil-2","m":90.9,"lo":89.9,"hi":91.9},{"w":480,"s":"Oil-2","m":90.6,"lo":89.6,"hi":91.6},{"w":495,"s":"Oil-2","m":90.4,"lo":89.4,"hi":91.4},{"w":510,"s":"Oil-2","m":90.1,"lo":89.1,"hi":91.1},{"w":525,"s":"Oil-2","m":89.6,"lo":88.6,"hi":90.6},{"w":540,"s":"Oil-2","m":89.1,"lo":88.1,"hi":90.1},{"w":550,"s":"Oil-2","m":88.6,"lo":87.6,"hi":89.6},
{"w":300,"s":"Oil-3","m":81.1,"lo":80.4,"hi":81.8},{"w":304,"s":"Oil-3","m":83.6,"lo":82.9,"hi":84.3},{"w":308,"s":"Oil-3","m":85.6,"lo":84.9,"hi":86.3},{"w":312,"s":"Oil-3","m":87.0,"lo":86.3,"hi":87.7},{"w":316,"s":"Oil-3","m":88.2,"lo":87.7,"hi":88.7},{"w":320,"s":"Oil-3","m":89.0,"lo":88.5,"hi":89.5},{"w":326,"s":"Oil-3","m":90.1,"lo":89.6,"hi":90.6},{"w":332,"s":"Oil-3","m":90.9,"lo":90.4,"hi":91.4},{"w":338,"s":"Oil-3","m":91.6,"lo":91.1,"hi":92.1},{"w":344,"s":"Oil-3","m":92.2,"lo":91.7,"hi":92.7},{"w":350,"s":"Oil-3","m":92.6,"lo":92.1,"hi":93.1},{"w":356,"s":"Oil-3","m":92.9,"lo":92.4,"hi":93.4},{"w":360,"s":"Oil-3","m":93.0,"lo":92.5,"hi":93.5},{"w":364,"s":"Oil-3","m":92.6,"lo":92.1,"hi":93.1},{"w":368,"s":"Oil-3","m":91.7,"lo":91.2,"hi":92.2},{"w":372,"s":"Oil-3","m":91.0,"lo":90.5,"hi":91.5},{"w":376,"s":"Oil-3","m":90.6,"lo":90.1,"hi":91.1},{"w":380,"s":"Oil-3","m":90.7,"lo":90.2,"hi":91.2},{"w":385,"s":"Oil-3","m":91.2,"lo":90.7,"hi":91.7},{"w":390,"s":"Oil-3","m":91.7,"lo":91.2,"hi":92.2},{"w":400,"s":"Oil-3","m":92.4,"lo":91.9,"hi":92.9},{"w":410,"s":"Oil-3","m":92.8,"lo":92.3,"hi":93.3},{"w":420,"s":"Oil-3","m":93.0,"lo":92.5,"hi":93.5},{"w":435,"s":"Oil-3","m":93.1,"lo":92.6,"hi":93.6},{"w":450,"s":"Oil-3","m":93.2,"lo":92.7,"hi":93.7},{"w":465,"s":"Oil-3","m":93.1,"lo":92.6,"hi":93.6},{"w":480,"s":"Oil-3","m":92.7,"lo":92.2,"hi":93.2},{"w":495,"s":"Oil-3","m":92.4,"lo":91.9,"hi":92.9},{"w":510,"s":"Oil-3","m":92.0,"lo":91.5,"hi":92.5},{"w":525,"s":"Oil-3","m":91.6,"lo":91.1,"hi":92.1},{"w":540,"s":"Oil-3","m":91.0,"lo":90.5,"hi":91.5},{"w":550,"s":"Oil-3","m":90.5,"lo":90.0,"hi":91.0}
],
"r63": [
{"w":300,"s":"Initial curve","m":89.8},{"w":304,"s":"Initial curve","m":91.1},{"w":308,"s":"Initial curve","m":92.2},{"w":312,"s":"Initial curve","m":93.1},{"w":316,"s":"Initial curve","m":93.9},{"w":320,"s":"Initial curve","m":94.5},{"w":326,"s":"Initial curve","m":95.3},{"w":332,"s":"Initial curve","m":95.9},{"w":338,"s":"Initial curve","m":96.6},{"w":344,"s":"Initial curve","m":97.2},{"w":350,"s":"Initial curve","m":97.7},{"w":356,"s":"Initial curve","m":98.3},{"w":360,"s":"Initial curve","m":98.7},{"w":364,"s":"Initial curve","m":98.0},{"w":368,"s":"Initial curve","m":96.7},{"w":372,"s":"Initial curve","m":95.9},{"w":376,"s":"Initial curve","m":95.6},{"w":380,"s":"Initial curve","m":95.8},{"w":385,"s":"Initial curve","m":96.2},{"w":390,"s":"Initial curve","m":96.6},{"w":400,"s":"Initial curve","m":97.2},{"w":410,"s":"Initial curve","m":97.5},{"w":420,"s":"Initial curve","m":97.6},{"w":435,"s":"Initial curve","m":97.5},{"w":450,"s":"Initial curve","m":97.4},{"w":465,"s":"Initial curve","m":97.0},{"w":480,"s":"Initial curve","m":96.4},{"w":495,"s":"Initial curve","m":95.8},{"w":510,"s":"Initial curve","m":95.1},{"w":525,"s":"Initial curve","m":94.4},{"w":540,"s":"Initial curve","m":93.7},{"w":550,"s":"Initial curve","m":93.3},
{"w":300,"s":"Control arm","m":89.1,"lo":88.1,"hi":90.1},{"w":304,"s":"Control arm","m":90.6,"lo":89.6,"hi":91.6},{"w":308,"s":"Control arm","m":91.8,"lo":90.8,"hi":92.8},{"w":312,"s":"Control arm","m":92.8,"lo":91.8,"hi":93.8},{"w":316,"s":"Control arm","m":93.5,"lo":92.5,"hi":94.5},{"w":320,"s":"Control arm","m":94.1,"lo":93.1,"hi":95.1},{"w":326,"s":"Control arm","m":94.9,"lo":93.9,"hi":95.9},{"w":332,"s":"Control arm","m":95.5,"lo":94.5,"hi":96.5},{"w":338,"s":"Control arm","m":96.2,"lo":95.2,"hi":97.2},{"w":344,"s":"Control arm","m":96.8,"lo":95.8,"hi":97.8},{"w":350,"s":"Control arm","m":97.3,"lo":96.3,"hi":98.3},{"w":356,"s":"Control arm","m":97.8,"lo":96.8,"hi":98.8},{"w":360,"s":"Control arm","m":98.2,"lo":97.2,"hi":99.2},{"w":364,"s":"Control arm","m":97.6,"lo":96.6,"hi":98.6},{"w":368,"s":"Control arm","m":96.3,"lo":95.3,"hi":97.3},{"w":372,"s":"Control arm","m":95.5,"lo":94.5,"hi":96.5},{"w":376,"s":"Control arm","m":95.1,"lo":94.1,"hi":96.1},{"w":380,"s":"Control arm","m":95.4,"lo":94.4,"hi":96.4},{"w":385,"s":"Control arm","m":95.9,"lo":94.9,"hi":96.9},{"w":390,"s":"Control arm","m":96.3,"lo":95.3,"hi":97.3},{"w":400,"s":"Control arm","m":96.9,"lo":95.9,"hi":97.9},{"w":410,"s":"Control arm","m":97.2,"lo":96.2,"hi":98.2},{"w":420,"s":"Control arm","m":97.3,"lo":96.3,"hi":98.3},{"w":435,"s":"Control arm","m":97.2,"lo":96.2,"hi":98.3},{"w":450,"s":"Control arm","m":97.1,"lo":96.1,"hi":98.3},{"w":465,"s":"Control arm","m":96.8,"lo":95.8,"hi":98.1},{"w":480,"s":"Control arm","m":96.2,"lo":95.2,"hi":97.5},{"w":495,"s":"Control arm","m":95.6,"lo":94.6,"hi":96.9},{"w":510,"s":"Control arm","m":95.0,"lo":94.0,"hi":96.3},{"w":525,"s":"Control arm","m":94.3,"lo":93.3,"hi":95.6},{"w":540,"s":"Control arm","m":93.6,"lo":92.6,"hi":94.9},{"w":550,"s":"Control arm","m":93.2,"lo":92.2,"hi":94.5},
{"w":300,"s":"Oil-1","m":85.5,"lo":84.1,"hi":86.9},{"w":304,"s":"Oil-1","m":87.0,"lo":85.6,"hi":88.4},{"w":308,"s":"Oil-1","m":88.3,"lo":86.9,"hi":89.7},{"w":312,"s":"Oil-1","m":89.3,"lo":87.9,"hi":90.7},{"w":316,"s":"Oil-1","m":90.1,"lo":89.0,"hi":91.2},{"w":320,"s":"Oil-1","m":90.8,"lo":89.7,"hi":91.9},{"w":326,"s":"Oil-1","m":91.7,"lo":90.6,"hi":92.8},{"w":332,"s":"Oil-1","m":92.4,"lo":91.3,"hi":93.5},{"w":338,"s":"Oil-1","m":93.1,"lo":92.0,"hi":94.2},{"w":344,"s":"Oil-1","m":93.8,"lo":92.7,"hi":94.9},{"w":350,"s":"Oil-1","m":94.3,"lo":93.2,"hi":95.4},{"w":356,"s":"Oil-1","m":94.8,"lo":93.7,"hi":95.9},{"w":360,"s":"Oil-1","m":95.1,"lo":94.0,"hi":96.2},{"w":364,"s":"Oil-1","m":94.6,"lo":93.5,"hi":95.7},{"w":368,"s":"Oil-1","m":93.7,"lo":92.6,"hi":94.8},{"w":372,"s":"Oil-1","m":93.1,"lo":92.0,"hi":94.2},{"w":376,"s":"Oil-1","m":92.8,"lo":91.7,"hi":93.9},{"w":380,"s":"Oil-1","m":93.0,"lo":91.9,"hi":94.1},{"w":385,"s":"Oil-1","m":93.4,"lo":92.3,"hi":94.5},{"w":390,"s":"Oil-1","m":93.9,"lo":92.8,"hi":95.0},{"w":400,"s":"Oil-1","m":94.5,"lo":93.4,"hi":95.6},{"w":410,"s":"Oil-1","m":94.9,"lo":93.8,"hi":96.0},{"w":420,"s":"Oil-1","m":95.2,"lo":94.1,"hi":96.3},{"w":435,"s":"Oil-1","m":95.4,"lo":94.3,"hi":96.5},{"w":450,"s":"Oil-1","m":95.4,"lo":94.3,"hi":96.5},{"w":465,"s":"Oil-1","m":95.2,"lo":94.1,"hi":96.3},{"w":480,"s":"Oil-1","m":94.9,"lo":93.8,"hi":96.0},{"w":495,"s":"Oil-1","m":94.6,"lo":93.5,"hi":95.7},{"w":510,"s":"Oil-1","m":94.2,"lo":93.1,"hi":95.3},{"w":525,"s":"Oil-1","m":93.8,"lo":92.7,"hi":94.9},{"w":540,"s":"Oil-1","m":93.3,"lo":92.2,"hi":94.4},{"w":550,"s":"Oil-1","m":92.8,"lo":91.7,"hi":93.9},
{"w":300,"s":"Oil-4","m":89.5,"lo":88.3,"hi":90.7},{"w":304,"s":"Oil-4","m":90.9,"lo":89.7,"hi":92.1},{"w":308,"s":"Oil-4","m":92.0,"lo":90.8,"hi":93.2},{"w":312,"s":"Oil-4","m":92.9,"lo":91.7,"hi":94.1},{"w":316,"s":"Oil-4","m":93.6,"lo":92.7,"hi":94.5},{"w":320,"s":"Oil-4","m":94.2,"lo":93.3,"hi":95.1},{"w":326,"s":"Oil-4","m":95.0,"lo":94.1,"hi":95.9},{"w":332,"s":"Oil-4","m":95.6,"lo":94.7,"hi":96.5},{"w":338,"s":"Oil-4","m":96.2,"lo":95.3,"hi":97.1},{"w":344,"s":"Oil-4","m":96.8,"lo":95.9,"hi":97.7},{"w":350,"s":"Oil-4","m":97.3,"lo":96.4,"hi":98.2},{"w":356,"s":"Oil-4","m":97.8,"lo":96.9,"hi":98.7},{"w":360,"s":"Oil-4","m":98.2,"lo":97.3,"hi":99.1},{"w":364,"s":"Oil-4","m":97.5,"lo":96.6,"hi":98.4},{"w":368,"s":"Oil-4","m":96.2,"lo":95.3,"hi":97.1},{"w":372,"s":"Oil-4","m":95.4,"lo":94.5,"hi":96.3},{"w":376,"s":"Oil-4","m":95.1,"lo":94.2,"hi":96.0},{"w":380,"s":"Oil-4","m":95.4,"lo":94.5,"hi":96.3},{"w":385,"s":"Oil-4","m":95.8,"lo":94.9,"hi":96.7},{"w":390,"s":"Oil-4","m":96.3,"lo":95.4,"hi":97.2},{"w":400,"s":"Oil-4","m":96.9,"lo":96.0,"hi":97.8},{"w":410,"s":"Oil-4","m":97.2,"lo":96.3,"hi":98.1},{"w":420,"s":"Oil-4","m":97.2,"lo":96.3,"hi":98.1},{"w":435,"s":"Oil-4","m":97.2,"lo":96.3,"hi":98.1},{"w":450,"s":"Oil-4","m":97.0,"lo":96.1,"hi":97.9},{"w":465,"s":"Oil-4","m":96.7,"lo":95.8,"hi":97.6},{"w":480,"s":"Oil-4","m":96.2,"lo":95.3,"hi":97.1},{"w":495,"s":"Oil-4","m":95.6,"lo":94.7,"hi":96.5},{"w":510,"s":"Oil-4","m":94.9,"lo":94.0,"hi":95.8},{"w":525,"s":"Oil-4","m":94.3,"lo":93.4,"hi":95.2},{"w":540,"s":"Oil-4","m":93.6,"lo":92.7,"hi":94.5},{"w":550,"s":"Oil-4","m":93.2,"lo":92.3,"hi":94.1}
]
},
"hconcat": [
{
  "width": 1229, "height": 854,
  "title": {"text": "OILS AND CONTROL ARM", "anchor": "middle", "dx": 10, "offset": -8},
  "view": {"stroke": "#000", "strokeWidth": 4},
  "layer": [
    {
      "data": {"name": "left"},
      "mark": {"type": "line", "strokeWidth": 3, "clip": true},
      "encoding": {
        "x": {"field": "w", "type": "quantitative", "scale": {"domain": [300, 550], "nice": false, "zero": false},
          "axis": {"orient": "bottom", "values": [300,320,340,360,380,400,420,440,460,480,500,520,540], "labelExpr": "(datum.value - 300) % 40 == 0 ? datum.label : ''", "labelFontSize": 41, "grid": true, "gridColor": "#b4b4b4", "gridDash": [6,4], "gridWidth": 1.5, "tickSize": -11, "tickWidth": 3, "labelPadding": 21, "title": "Wavelength [nm]", "titlePadding": 6, "titleX": 671}},
        "y": {"field": "v", "type": "quantitative", "scale": {"domain": [-4, 4], "nice": false, "zero": false},
          "axis": {"orient": "left", "values": [-4,-3.5,-3,-2.5,-2,-1.5,-1,-0.5,0,0.5,1,1.5,2,2.5,3,3.5,4], "labelExpr": "datum.value % 1 == 0 ? '' + datum.value : ''", "grid": true, "gridColor": "#b4b4b4", "gridDash": [6,4], "gridWidth": 1.5, "tickSize": -11, "tickWidth": 3, "labelPadding": 22, "title": "Reflectivity modification [σ]", "titlePadding": 22, "titleY": 454}},
        "color": {"field": "s", "type": "nominal", "scale": {"domain": ["Control arm","Oil-1","Oil-2","Oil-3","Oil-4"], "range": ["#0000FF","#FFA500","#FF0000","#008000","#A52A2A"]},
          "legend": {"title": null, "orient": "none", "legendX": 874, "legendY": 636, "labelExpr": "datum.label + ' (t₂)\u00a0\u00a0'"}},
        "strokeDash": {"field": "s", "type": "nominal", "scale": {"domain": ["Control arm","Oil-1","Oil-2","Oil-3","Oil-4"], "range": [[12,6],[1,0],[1,0],[1,0],[1,0]]},
          "legend": {"title": null, "orient": "none", "legendX": 874, "legendY": 636, "labelExpr": "datum.label + ' (t₂)\u00a0\u00a0'"}}
      }
    },
    {
      "data": {"name": "left"},
      "mark": {"type": "point", "opacity": 0},
      "encoding": {
        "x": {"field": "w", "type": "quantitative", "axis": {"orient": "top", "values": [300,320,340,360,380,400,420,440,460,480,500,520,540], "labels": false, "grid": false, "tickSize": -11, "tickWidth": 3, "title": null}},
        "y": {"field": "v", "type": "quantitative", "axis": {"orient": "right", "values": [-4,-3.5,-3,-2.5,-2,-1.5,-1,-0.5,0,0.5,1,1.5,2,2.5,3,3.5,4], "labels": false, "grid": false, "tickSize": -11, "tickWidth": 3, "title": null}}
      }
    }
  ],
  "resolve": {"axis": {"x": "independent", "y": "independent"}}
},
{
  "title": {"text": "REFLECTIVITY CURVE", "anchor": "start", "dx": 20, "offset": 10},
  "spacing": 0,
  "bounds": "flush",
  "resolve": {"scale": {"color": "independent", "strokeDash": "independent", "fill": "independent"}, "legend": {"color": "independent", "strokeDash": "independent"}},
  "vconcat": [
    {
      "width": 615, "height": 427,
      "view": {"stroke": "#222", "strokeWidth": 2},
      "layer": [
        {
          "data": {"name": "r07"},
          "transform": [{"filter": "datum.s != 'Initial curve'"}],
          "mark": {"type": "area", "opacity": 0.22, "clip": true},
          "encoding": {
            "x": {"field": "w", "type": "quantitative", "scale": {"domain": [300, 550], "nice": false, "zero": false}, "axis": {"orient": "top", "values": [300,320,340,360,380,400,420,440,460,480,500,520,540], "labels": false, "grid": false, "tickSize": -8, "tickWidth": 1.5, "title": null}},
            "y": {"field": "lo", "type": "quantitative", "scale": {"domain": [70, 100], "nice": false, "zero": false}, "axis": {"orient": "left", "values": [70,72.5,75,77.5,80,82.5,85,87.5,90,92.5,95,97.5,100], "labels": false, "grid": false, "tickSize": -8, "tickWidth": 1.5, "title": null}},
            "y2": {"field": "hi"},
            "fill": {"field": "s", "type": "nominal", "scale": {"domain": ["Control arm","Oil-2","Oil-3"], "range": ["#0000FF","#FF0000","#008000"]}, "legend": null}
          }
        },
        {
          "data": {"name": "r07"},
          "mark": {"type": "line", "strokeWidth": 2, "clip": true},
          "encoding": {
            "x": {"field": "w", "type": "quantitative", "axis": {"orient": "bottom", "values": [300,320,340,360,380,400,420,440,460,480,500,520,540], "labels": false, "grid": true, "gridColor": "#999999", "gridDash": [2,3], "gridWidth": 1.2, "tickSize": -8, "tickWidth": 1.5, "title": null}},
            "y": {"field": "m", "type": "quantitative", "axis": {"orient": "right", "values": [70,72.5,75,77.5,80,82.5,85,87.5,90,92.5,95,97.5,100], "labelExpr": "datum.value % 10 == 0 ? datum.label : ''", "labelFlush": true, "grid": true, "gridColor": "#999999", "gridDash": [2,3], "gridWidth": 1.2, "tickSize": -8, "tickWidth": 1.5, "labelPadding": 19, "title": "Reflectivity [%]", "titlePadding": 26, "titleY": 186}},
            "color": {"field": "s", "type": "nominal", "scale": {"domain": ["Initial curve","Control arm","Oil-2","Oil-3"], "range": ["#000000","#0000FF","#FF0000","#008000"]},
              "legend": {"title": null, "orient": "none", "legendX": 271, "legendY": 248, "labelExpr": "(datum.label == 'Initial curve' ? datum.label + ' (t₀)' : datum.label + ' (t₂)') + '\u00a0\u00a0'"}},
            "strokeDash": {"field": "s", "type": "nominal", "scale": {"domain": ["Initial curve","Control arm","Oil-2","Oil-3"], "range": [[2,3],[6,4],[1,0],[1,0]]},
              "legend": {"title": null, "orient": "none", "legendX": 271, "legendY": 248, "labelExpr": "(datum.label == 'Initial curve' ? datum.label + ' (t₀)' : datum.label + ' (t₂)') + '\u00a0\u00a0'"}}
          }
        },
        {
          "data": {"values": [{}]},
          "mark": {"type": "text", "text": "Mirror 07", "fontSize": 30, "fontWeight": "bold", "align": "left", "baseline": "alphabetic", "color": "#000"},
          "encoding": {"x": {"datum": 411.4, "type": "quantitative", "axis": null}, "y": {"datum": 83.5, "type": "quantitative", "axis": null}}
        }
      ],
      "resolve": {"axis": {"x": "independent", "y": "independent"}}
    },
    {
      "width": 615, "height": 427,
      "view": {"stroke": "#222", "strokeWidth": 2},
      "layer": [
        {
          "data": {"name": "r63"},
          "transform": [{"filter": "datum.s != 'Initial curve'"}],
          "mark": {"type": "area", "opacity": 0.22, "clip": true},
          "encoding": {
            "x": {"field": "w", "type": "quantitative", "scale": {"domain": [300, 550], "nice": false, "zero": false}, "axis": {"orient": "top", "values": [300,320,340,360,380,400,420,440,460,480,500,520,540], "labels": false, "grid": false, "tickSize": -8, "tickWidth": 1.5, "title": null}},
            "y": {"field": "lo", "type": "quantitative", "scale": {"domain": [70, 100], "nice": false, "zero": false}, "axis": {"orient": "left", "values": [70,72.5,75,77.5,80,82.5,85,87.5,90,92.5,95,97.5,100], "labels": false, "grid": false, "tickSize": -8, "tickWidth": 1.5, "title": null}},
            "y2": {"field": "hi"},
            "fill": {"field": "s", "type": "nominal", "scale": {"domain": ["Control arm","Oil-1","Oil-4"], "range": ["#0000FF","#FFA500","#A52A2A"]}, "legend": null}
          }
        },
        {
          "data": {"name": "r63"},
          "mark": {"type": "line", "strokeWidth": 2, "clip": true},
          "encoding": {
            "x": {"field": "w", "type": "quantitative", "axis": {"orient": "bottom", "values": [300,320,340,360,380,400,420,440,460,480,500,520,540], "labelExpr": "(datum.value - 300) % 40 == 0 ? datum.label : ''", "labelFlush": true, "labelFontSize": 41, "grid": true, "gridColor": "#999999", "gridDash": [2,3], "gridWidth": 1.2, "tickSize": -8, "tickWidth": 1.5, "labelPadding": 18, "title": "Wavelength [nm]", "titlePadding": 6, "titleX": 347}},
            "y": {"field": "m", "type": "quantitative", "axis": {"orient": "right", "values": [70,72.5,75,77.5,80,82.5,85,87.5,90,92.5,95,97.5,100], "labelExpr": "datum.value % 10 == 0 ? datum.label : ''", "labelFlush": true, "grid": true, "gridColor": "#999999", "gridDash": [2,3], "gridWidth": 1.2, "tickSize": -8, "tickWidth": 1.5, "labelPadding": 19, "title": "Reflectivity [%]", "titlePadding": 26, "titleY": 181}},
            "color": {"field": "s", "type": "nominal", "scale": {"domain": ["Initial curve","Control arm","Oil-1","Oil-4"], "range": ["#000000","#0000FF","#FFA500","#A52A2A"]},
              "legend": {"title": null, "orient": "none", "legendX": 274, "legendY": 248, "labelExpr": "(datum.label == 'Initial curve' ? datum.label + ' (t₀)' : datum.label + ' (t₂)') + '\u00a0\u00a0'"}},
            "strokeDash": {"field": "s", "type": "nominal", "scale": {"domain": ["Initial curve","Control arm","Oil-1","Oil-4"], "range": [[2,3],[6,4],[1,0],[1,0]]},
              "legend": {"title": null, "orient": "none", "legendX": 274, "legendY": 248, "labelExpr": "(datum.label == 'Initial curve' ? datum.label + ' (t₀)' : datum.label + ' (t₂)') + '\u00a0\u00a0'"}}
          }
        },
        {
          "data": {"values": [{}]},
          "mark": {"type": "text", "text": "Mirror 63", "fontSize": 30, "fontWeight": "bold", "align": "left", "baseline": "alphabetic", "color": "#000"},
          "encoding": {"x": {"datum": 411.4, "type": "quantitative", "axis": null}, "y": {"datum": 84.0, "type": "quantitative", "axis": null}}
        }
      ],
      "resolve": {"axis": {"x": "independent", "y": "independent"}}
    }
  ]
}
]
}
